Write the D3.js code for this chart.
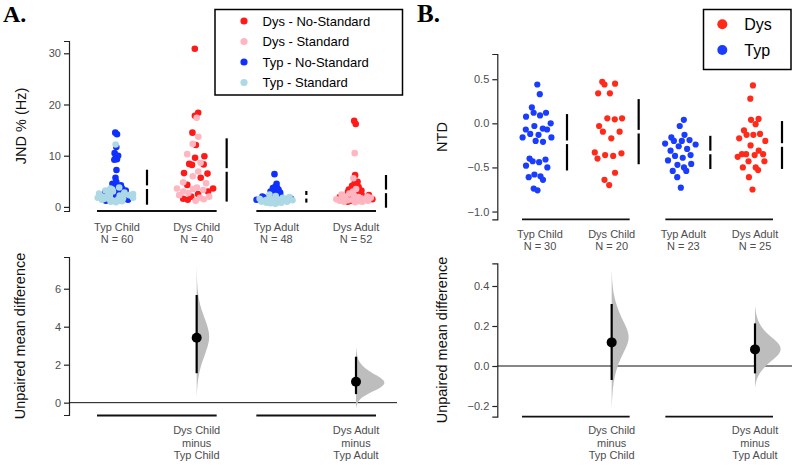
<!DOCTYPE html>
<html>
<head>
<meta charset="utf-8">
<script src="https://cdn.jsdelivr.net/npm/d3@7"></script>
<style>
  html, body { margin: 0; padding: 0; background: #fff; }
  svg { display: block; font-family: "Liberation Sans", Arial, sans-serif; }
</style>
</head>
<body>
<script>
// ---------------- DATA ----------------
const groups = ["Typ Child", "Dys Child", "Typ Adult", "Dys Adult"];

// Panel A : JND % (Hz)
const typChildNoStd = [14.5, 14.2, 11.7, 10.5, 10.0, 9.5, 9.3, 9.2, 7.2, 5.7, 4.9, 4.5, 4.2, 3.9, 3.6, 3.4, 3.2, 3.0, 2.9, 2.7, 2.5, 2.4, 2.2, 2.1, 2.0, 1.9, 1.8, 1.6, 1.4, 1.2];
const typChildStd   = [12.2, 3.8, 3.6, 3.4, 3.2, 3.0, 2.8, 2.7, 2.6, 2.5, 2.4, 2.3, 2.2, 2.2, 2.1, 2.0, 2.0, 1.9, 1.8, 1.8, 1.7, 1.6, 1.5, 1.5, 1.4, 1.3, 1.2, 1.1, 1.0, 0.9];
const dysChildNoStd = [30.9, 18.4, 17.8, 14.5, 12.1, 9.9, 9.6, 8.4, 8.3, 8.2, 6.6, 6.5, 5.7, 4.3, 3.6, 3.0, 2.5, 2.0, 1.6, 1.4];
const dysChildStd   = [17.4, 13.7, 12.3, 10.3, 8.6, 6.9, 6.0, 4.8, 4.6, 3.8, 3.6, 3.5, 3.3, 3.0, 2.7, 2.3, 2.0, 1.8, 1.5, 1.2];
const typAdultNoStd = [6.4, 4.5, 3.9, 3.8, 3.7, 3.4, 3.2, 3.1, 3.0, 2.8, 2.7, 2.5, 2.3, 2.2, 2.0, 1.9, 1.8, 1.7, 1.7, 1.6, 1.5, 1.5, 1.4, 1.3];
const typAdultStd   = [2.4, 2.1, 1.9, 1.8, 1.7, 1.6, 1.5, 1.5, 1.4, 1.4, 1.3, 1.3, 1.2, 1.2, 1.1, 1.1, 1.0, 1.0, 0.9, 0.9, 0.8, 0.8, 0.7, 0.6];
const dysAdultNoStd = [16.8, 16.2, 6.2, 4.9, 4.6, 4.3, 4.1, 3.9, 3.6, 3.4, 3.2, 3.0, 2.9, 2.7, 2.5, 2.3, 2.2, 2.0, 1.9, 1.8, 1.6, 1.5, 1.4, 1.3, 1.2, 1.0];
const dysAdultStd   = [10.5, 5.6, 3.5, 3.0, 2.6, 2.4, 2.2, 2.0, 2.0, 1.9, 1.8, 1.7, 1.6, 1.6, 1.5, 1.5, 1.4, 1.4, 1.3, 1.3, 1.2, 1.2, 1.1, 1.0, 1.0, 0.9];

const legendA = ["Dys - No-Standard", "Dys - Standard", "Typ - No-Standard", "Typ - Standard"];
const ticksA = [0, 10, 20, 30];
const ticksAdiff = [0, 2, 4, 6];

// Effect sizes (mean difference, 95% CI) and bootstrap density profiles
const diffLabels = [["Dys Child", "minus", "Typ Child"], ["Dys Adult", "minus", "Typ Adult"]];
const effA = [3.42, 1.10];
const effAlo = [1.55, 0.45];
const effAhi = [5.67, 2.42];
const violinA1v = [0.3, 0.9, 1.5, 2.0, 2.5, 3.0, 3.45, 3.9, 4.4, 4.9, 5.4, 6.0, 6.6, 7.3];
const violinA1d = [0, 0.05, 0.16, 0.35, 0.62, 0.88, 1.0, 0.9, 0.64, 0.36, 0.17, 0.06, 0.02, 0];
const violinA2v = [-0.3, 0.0, 0.3, 0.55, 0.8, 1.05, 1.3, 1.55, 1.8, 2.1, 2.4, 2.95];
const violinA2d = [0, 0.04, 0.2, 0.5, 0.85, 1.0, 0.85, 0.55, 0.3, 0.12, 0.04, 0];
const violinApeak = [1, 2.3];

// Panel B : NTD
const ntdTypChild = [0.44, 0.33, 0.18, 0.12, 0.12, 0.09, 0.075, 0.0, -0.03, -0.06, -0.07, -0.07, -0.12, -0.13, -0.16, -0.16, -0.2, -0.21, -0.40, -0.41, -0.43, -0.44, -0.48, -0.5, -0.58, -0.6, -0.61, -0.64, -0.74, -0.76];
const ntdDysChild = [0.47, 0.44, 0.45, 0.34, 0.34, 0.057, 0.045, 0.057, -0.03, -0.095, -0.095, -0.17, -0.33, -0.36, -0.37, -0.34, -0.40, -0.56, -0.64, -0.70];
const ntdTypAdult = [0.04, -0.03, -0.23, -0.16, -0.2, -0.13, -0.2, -0.19, -0.24, -0.26, -0.31, -0.29, -0.37, -0.39, -0.36, -0.42, -0.47, -0.46, -0.5, -0.54, -0.54, -0.61, -0.73];
const ntdDysAdult = [0.43, 0.28, 0.04, 0.05, -0.01, -0.08, -0.13, -0.17, -0.13, -0.12, -0.2, -0.25, -0.35, -0.36, -0.38, -0.35, -0.35, -0.31, -0.43, -0.43, -0.5, -0.5, -0.53, -0.61, -0.75];

const legendB = ["Dys", "Typ"];
const ticksB = [0.5, 0.0, -0.5, -1.0];
const ticksBdiff = [-0.2, 0.0, 0.2, 0.4];

const effB = [0.118, 0.083];
const effBlo = [-0.07, -0.037];
const effBhi = [0.31, 0.213];
const violinB1v = [-0.22, -0.15, -0.08, -0.02, 0.04, 0.09, 0.14, 0.19, 0.24, 0.30, 0.36, 0.42, 0.48];
const violinB1d = [0, 0.03, 0.1, 0.25, 0.5, 0.8, 1.0, 0.85, 0.55, 0.28, 0.1, 0.03, 0];
const violinB2v = [-0.11, -0.06, -0.02, 0.02, 0.05, 0.085, 0.12, 0.15, 0.19, 0.24, 0.30];
const violinB2d = [0, 0.06, 0.25, 0.55, 0.85, 1.0, 0.85, 0.55, 0.25, 0.06, 0];
const violinBpeak = [1, 1.5];

// ---------------- STYLE ----------------
const C = { dysNo: "#ff1a1a", dysStd: "#ffb6c1", typNo: "#1030ff", typStd: "#add8e6",
            dys: "#ff2a1a", typ: "#1a3cff", grey: "#4d4d4d", violin: "#bdbdbd" };
const tickFont = 11, titleFont = 14.5;

const svg = d3.select("body").append("svg").attr("width", 795).attr("height", 465);
svg.append("rect").attr("width", 795).attr("height", 465).attr("fill", "#fff");

// ---------------- HELPERS ----------------
function vdc(n) { // van der Corput, base 2
  let q = 0, bk = 0.5;
  while (n > 0) { q += (n % 2) * bk; n = Math.floor(n / 2); bk /= 2; }
  return q;
}
// quasirandom (violin-scatter) offsets, as in ggbeeswarm
function quasirandom(items, width) {
  const vals = items.map(d => d.v);
  const sorted = vals.slice().sort(d3.ascending);
  const n = vals.length;
  const iqr = d3.quantile(sorted, 0.75) - d3.quantile(sorted, 0.25);
  const bw = 0.9 * Math.min(d3.deviation(vals), iqr / 1.34) * Math.pow(n, -0.2);
  const dens = v => d3.sum(vals, x => Math.exp(-0.5 * ((v - x) / bw) ** 2));
  const ds = vals.map(dens), mx = d3.max(ds);
  const order = d3.range(n).sort((a, b) => vals[a] - vals[b]);
  const out = items.map(d => Object.assign({}, d));
  order.forEach((idx, r) => {
    out[idx].dx = (vdc(r + 1) - 0.5) * 2 * width * (ds[idx] / mx);
  });
  return out;
}

function yAxis(g, scale, ticks, fmt) {
  const ax = d3.axisLeft(scale).tickValues(ticks).tickSizeOuter(0).tickSize(5).tickPadding(3);
  if (fmt) ax.tickFormat(fmt);
  g.call(ax);
  g.select(".domain").attr("stroke", "#222").attr("stroke-width", 1.2);
  g.selectAll(".tick line").attr("stroke", "#222").attr("stroke-width", 1.2);
  g.selectAll(".tick text").attr("fill", C.grey).attr("font-size", tickFont)
    .attr("font-family", '"Liberation Sans", Arial, sans-serif');
}

function yTitle(x, y, text) {
  svg.append("text").attr("transform", `translate(${x},${y}) rotate(-90)`)
    .attr("text-anchor", "middle").attr("font-size", titleFont).attr("fill", "#111").text(text);
}

function groupLines(x, y, half) {
  [[0, 1], [2, 3]].forEach(([a, b]) => {
    svg.append("line").attr("x1", x(groups[a]) - half).attr("x2", x(groups[b]) + half)
      .attr("y1", y).attr("y2", y).attr("stroke", "#111").attr("stroke-width", 1.8);
  });
}

function meanSd(x, y, vals, gap) {
  const m = d3.mean(vals), s = d3.deviation(vals);
  const g = svg.append("g").attr("stroke", "#000").attr("stroke-width", 2.2);
  g.append("line").attr("x1", x).attr("x2", x).attr("y1", y(m + s)).attr("y2", y(m) - gap);
  g.append("line").attr("x1", x).attr("x2", x).attr("y1", y(m) + gap).attr("y2", y(m - s));
}

function violin(cx, y, vs, ds, w) {
  const pts = vs.map((v, i) => [v, ds[i]]);
  const area = d3.area().y(p => y(p[0])).x0(cx).x1(p => cx + p[1] * w).curve(d3.curveBasis);
  svg.append("path").attr("d", area(pts)).attr("fill", C.violin);
}

function effect(cx, y, est, lo, hi) {
  svg.append("line").attr("x1", cx).attr("x2", cx).attr("y1", y(hi)).attr("y2", y(lo))
    .attr("stroke", "#000").attr("stroke-width", 2.2);
  svg.append("circle").attr("cx", cx).attr("cy", y(est)).attr("r", 5).attr("fill", "#000");
}

// ---------------- PANEL A ----------------
svg.append("text").attr("x", 3).attr("y", 22).attr("font-family", '"Liberation Serif", "Times New Roman", serif')
  .attr("font-weight", "bold").attr("font-size", 24).attr("fill", "#000").text("A.");

const xA = d3.scalePoint().domain(groups).range([117, 356]);
const yA = d3.scaleLinear().domain([-0.8, 32.4]).range([211, 41]);
yAxis(svg.append("g").attr("transform", "translate(69,0)"), yA, ticksA, d3.format("d"));
yTitle(26, 126, "JND % (Hz)");
groupLines(xA, 211, 20);

const dataA = [
  { g: "Typ Child", sets: [[typChildNoStd, C.typNo], [typChildStd, C.typStd]] },
  { g: "Dys Child", sets: [[dysChildNoStd, C.dysNo], [dysChildStd, C.dysStd]] },
  { g: "Typ Adult", sets: [[typAdultNoStd, C.typNo], [typAdultStd, C.typStd]] },
  { g: "Dys Adult", sets: [[dysAdultNoStd, C.dysNo], [dysAdultStd, C.dysStd]] }
];
dataA.forEach(grp => {
  const items = [];
  grp.sets.forEach(([vals, col]) => vals.forEach(v => items.push({ v, col })));
  const sw = quasirandom(items, 20);
  svg.append("g").selectAll("circle").data(sw).join("circle")
    .attr("cx", d => xA(grp.g) - 1 + d.dx).attr("cy", d => yA(d.v)).attr("r", 3.3).attr("fill", d => d.col);
  meanSd(xA(grp.g) + 30, yA, items.map(d => d.v), 1.8);
  const t = svg.append("text").attr("text-anchor", "middle").attr("fill", C.grey).attr("font-size", tickFont);
  t.append("tspan").attr("x", xA(grp.g)).attr("y", 231).text(grp.g);
  t.append("tspan").attr("x", xA(grp.g)).attr("y", 242.5).text("N = " + items.length);
});

// legend A
svg.append("rect").attr("x", 215).attr("y", 9.5).attr("width", 187.5).attr("height", 85.5)
  .attr("fill", "#fff").attr("stroke", "#000").attr("stroke-width", 1.5);
const legColsA = [C.dysNo, C.dysStd, C.typNo, C.typStd];
legendA.forEach((lab, i) => {
  const yy = 21 + i * 20.5;
  svg.append("circle").attr("cx", 244).attr("cy", yy).attr("r", 3.6).attr("fill", legColsA[i]);
  svg.append("text").attr("x", 262.5).attr("y", yy).attr("dy", "0.35em").attr("font-size", 13)
    .attr("fill", "#000").text(lab);
});

// Panel A difference axes
const yAd = d3.scaleLinear().domain([-0.65, 7.67]).range([415, 257]);
yAxis(svg.append("g").attr("transform", "translate(69,0)"), yAd, ticksAdiff, d3.format("d"));
yTitle(25, 336, "Unpaired mean difference");
svg.append("line").attr("x1", 69).attr("x2", 397).attr("y1", yAd(0)).attr("y2", yAd(0))
  .attr("stroke", "#111").attr("stroke-width", 1);
groupLines(xA, 415.5, 20);
const violA = [[violinA1v, violinA1d], [violinA2v, violinA2d]];
[1, 3].forEach((gi, k) => {
  const cx = xA(groups[gi]);
  violin(cx, yAd, violA[k][0], violA[k][1], 13 * violinApeak[k]);
  effect(cx, yAd, effA[k], effAlo[k], effAhi[k]);
  const t = svg.append("text").attr("text-anchor", "middle").attr("fill", C.grey).attr("font-size", tickFont);
  diffLabels[k].forEach((s, j) => t.append("tspan").attr("x", cx).attr("y", 434 + j * 12.6).text(s));
});

// ---------------- PANEL B ----------------
svg.append("text").attr("x", 417).attr("y", 22).attr("font-family", '"Liberation Serif", "Times New Roman", serif')
  .attr("font-weight", "bold").attr("font-size", 25).attr("fill", "#000").text("B.");

const xB = d3.scalePoint().domain(groups).range([540, 755]);
const yB = d3.scaleLinear().domain([-1.088, 0.786]).range([219.3, 54]);
yAxis(svg.append("g").attr("transform", "translate(497.3,0)"), yB, ticksB, d3.format(".1f"));
yTitle(447, 137, "NTD");
groupLines(xB, 219.3, 18);

const dataB = [
  { g: "Typ Child", vals: ntdTypChild, col: C.typ },
  { g: "Dys Child", vals: ntdDysChild, col: C.dys },
  { g: "Typ Adult", vals: ntdTypAdult, col: C.typ },
  { g: "Dys Adult", vals: ntdDysAdult, col: C.dys }
];
dataB.forEach(grp => {
  const items = grp.vals.map(v => ({ v }));
  const sw = quasirandom(items, 17);
  svg.append("g").selectAll("circle").data(sw).join("circle")
    .attr("cx", d => xB(grp.g) - 2.5 + d.dx).attr("cy", d => yB(d.v)).attr("r", 3.1).attr("fill", grp.col);
  meanSd(xB(grp.g) + 27, yB, grp.vals, 1.8);
  const t = svg.append("text").attr("text-anchor", "middle").attr("fill", C.grey).attr("font-size", tickFont);
  t.append("tspan").attr("x", xB(grp.g)).attr("y", 238).text(grp.g);
  t.append("tspan").attr("x", xB(grp.g)).attr("y", 249.5).text("N = " + grp.vals.length);
});

// legend B
svg.append("rect").attr("x", 703.5).attr("y", 9.5).attr("width", 87.5).attr("height", 60)
  .attr("fill", "#fff").attr("stroke", "#000").attr("stroke-width", 1.5);
const legColsB = [C.dys, C.typ];
legendB.forEach((lab, i) => {
  const yy = 24.3 + i * 25.7;
  svg.append("circle").attr("cx", 722.3).attr("cy", yy).attr("r", 5).attr("fill", legColsB[i]);
  svg.append("text").attr("x", 744.3).attr("y", yy).attr("dy", "0.35em").attr("font-size", 16)
    .attr("fill", "#000").text(lab);
});

// Panel B difference axes
const yBd = d3.scaleLinear().domain([-0.2535, 0.5135]).range([416.7, 263.3]);
yAxis(svg.append("g").attr("transform", "translate(497.3,0)"), yBd, ticksBdiff, d3.format(".1f"));
yTitle(447, 340, "Unpaired mean difference");
svg.append("line").attr("x1", 497.3).attr("x2", 792).attr("y1", yBd(0)).attr("y2", yBd(0))
  .attr("stroke", "#111").attr("stroke-width", 1);
groupLines(xB, 416.7, 18);
const violB = [[violinB1v, violinB1d], [violinB2v, violinB2d]];
[1, 3].forEach((gi, k) => {
  const cx = xB(groups[gi]);
  violin(cx, yBd, violB[k][0], violB[k][1], 18 * violinBpeak[k]);
  effect(cx, yBd, effB[k], effBlo[k], effBhi[k]);
  const t = svg.append("text").attr("text-anchor", "middle").attr("fill", C.grey).attr("font-size", tickFont);
  diffLabels[k].forEach((s, j) => t.append("tspan").attr("x", cx).attr("y", 434 + j * 12.6).text(s));
});
</script>
</body>
</html>
